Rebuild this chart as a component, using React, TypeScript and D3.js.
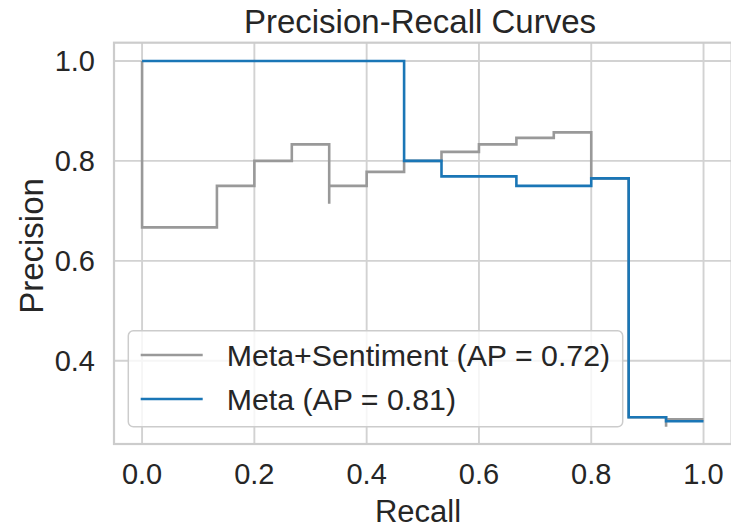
import React from "react";
import * as d3 from "d3";

// Meta+Sentiment, in sklearn order (recall descending), drawn steps-post
const metaSentRecall = [1.0, 0.9333, 0.9333, 0.8667, 0.8667, 0.8, 0.7333, 0.6667, 0.6, 0.5333, 0.4667, 0.4, 0.3333, 0.3333, 0.2667, 0.2, 0.1333, 0.0];
const metaSentPrecision = [0.283, 0.268, 0.287, 0.287, 0.765, 0.857, 0.846, 0.833, 0.818, 0.8, 0.778, 0.75, 0.714, 0.833, 0.8, 0.75, 0.667, 1.0];

// Meta
const metaRecall = [1.0, 0.9333, 0.8667, 0.8, 0.6667, 0.5333, 0.4667, 0.0];
const metaPrecision = [0.279, 0.287, 0.765, 0.75, 0.769, 0.8, 1.0, 1.0];

const xTicks = [0.0, 0.2, 0.4, 0.6, 0.8, 1.0];
const yTicks = [0.4, 0.6, 0.8, 1.0];

const seriesNames = ["Meta+Sentiment (AP = 0.72)", "Meta (AP = 0.81)"];
const seriesColors = ["#999999", "#1a76b6"];

const W = 731;
const H = 527;
const FONT = "'Liberation Sans', Arial, sans-serif";
const TEXT = "#262626";
const GRID = "#d2d2d2";

export default function App() {
  const left = 114, right = 731.6, top = 42.7, bottom = 444;
  const x = d3.scaleLinear().domain([-0.05, 1.05]).range([left, right]);
  const y = d3.scaleLinear().domain([0.2335, 1.0365]).range([bottom, top]);

  const line = d3
    .line<[number, number]>()
    .x((d) => x(d[0]))
    .y((d) => y(d[1]))
    .curve(d3.curveStepAfter);

  const series = [
    { pts: metaSentRecall.map((r, i) => [r, metaSentPrecision[i]] as [number, number]) },
    { pts: metaRecall.map((r, i) => [r, metaPrecision[i]] as [number, number]) },
  ];

  const legX = 128.3, legY = 330.7, legW = 494.4, legH = 96;

  return (
    <svg width={W} height={H} style={{ display: "block", position: "absolute", left: 0, top: 0 }} fontFamily={FONT}>
      <rect x={0} y={0} width={W} height={H} fill="#ffffff" />
      <defs>
        <clipPath id="plotclip">
          <rect x={left} y={top} width={right - left} height={bottom - top} />
        </clipPath>
      </defs>
      {/* grid */}
      {xTicks.map((t) => (
        <line key={"gx" + t} x1={x(t)} x2={x(t)} y1={top} y2={bottom} stroke={GRID} strokeWidth={1.9} />
      ))}
      {yTicks.map((t) => (
        <line key={"gy" + t} x1={left} x2={right} y1={y(t)} y2={y(t)} stroke={GRID} strokeWidth={1.9} />
      ))}
      {/* spines */}
      <rect x={left} y={top} width={right - left} height={bottom - top} fill="none" stroke="#cccccc" strokeWidth={2.2} />
      {/* curves */}
      <g clipPath="url(#plotclip)">
        {series.map((s, i) => (
          <path key={i} d={line(s.pts) || ""} fill="none" stroke={seriesColors[i]} strokeWidth={2.6} strokeLinejoin="miter" strokeLinecap="butt" />
        ))}
      </g>
      {/* ticks */}
      {xTicks.map((t) => (
        <text key={"tx" + t} x={x(t)} y={484} textAnchor="middle" fontSize={29} fill={TEXT}>
          {d3.format(".1f")(t)}
        </text>
      ))}
      {yTicks.map((t) => (
        <text key={"ty" + t} x={95} y={y(t) + 10} textAnchor="end" fontSize={29} fill={TEXT}>
          {d3.format(".1f")(t)}
        </text>
      ))}
      {/* labels */}
      <text x={420} y={33} textAnchor="middle" fontSize={33} fill={TEXT}>
        Precision-Recall Curves
      </text>
      <text x={418} y={521.5} textAnchor="middle" fontSize={31} fill={TEXT}>
        Recall
      </text>
      <text transform={`translate(43, 246) rotate(-90)`} textAnchor="middle" fontSize={33} fill={TEXT}>
        Precision
      </text>
      {/* legend */}
      <rect x={legX} y={legY} width={legW} height={legH} rx={5} ry={5} fill="#ffffff" fillOpacity={0.8} stroke="#cccccc" strokeWidth={1.5} />
      {seriesNames.map((n, i) => (
        <g key={n}>
          <line x1={140.7} x2={202.7} y1={355 + i * 44} y2={355 + i * 44} stroke={seriesColors[i]} strokeWidth={2.6} />
          <text x={226.7} y={365.7 + i * 44} fontSize={30.3} fill={TEXT}>
            {n}
          </text>
        </g>
      ))}
    </svg>
  );
}
